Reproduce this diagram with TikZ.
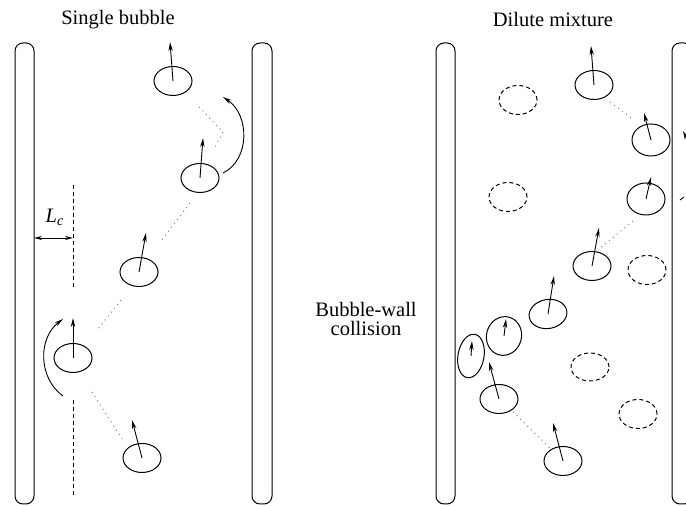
\documentclass[tikz,border=0pt]{standalone}
\usepackage{fontspec}
\setmainfont{Liberation Serif}
\usetikzlibrary{shapes.geometric,arrows.meta}
\tikzset{
  bub/.style={ellipse, draw, line width=0.5pt, inner sep=0pt, minimum width=19pt, minimum height=14.5pt},
  ghost/.style={bub, dash pattern=on 2pt off 1.5pt},
  vel/.style={-{Stealth[length=4.5pt,width=2.2pt]}, line width=0.45pt},
  trail/.style={dotted, gray, line width=0.5pt},
  wall/.style={draw, line width=0.5pt, rounded corners=4pt},
  lbl/.style={font=\fontsize{10.25}{10}\selectfont, anchor=base},
}
\begin{document}
\begin{tikzpicture}[x=0.5pt,y=-0.5pt]
\useasboundingbox (0,0) rectangle (686,506);
\clip (0,0) rectangle (686,506);
% titles
\node [lbl] (tsingle) at (118,25) {Single bubble};
\node [lbl] (tdilute) at (553,27) {Dilute mixture};
\node [lbl] (tcoll1) at (366,317) {Bubble-wall};
\node [lbl] (tcoll2) at (366,336) {collision};
% walls
\draw [wall] (15,43) rectangle (34,504);
\draw [wall] (252,43) rectangle (272,504);
\draw [wall] (436,43) rectangle (455,504);
\draw [wall] (672,43) rectangle (692,504);
% single bubble
\coordinate (wallin) at (34,238);
\coordinate (lcline) at (73,238);
\draw [line width=0.5pt, dash pattern=on 2pt off 1.5pt] (73,185) -- (73,290);
\draw [line width=0.5pt, dash pattern=on 2pt off 1.5pt] (73,400) -- (73,497);
\draw [{Stealth[length=4pt,width=2pt]}-{Stealth[length=4pt,width=2pt]}, line width=0.45pt] (wallin) -- (lcline);
\node [lbl] (lc) at (55,223) {\textit{L}\textsubscript{\textit{c}}};
\node [bub] (s1) at (173,81) {};
\node [bub] (s2) at (200,178) {};
\node [bub] (s3) at (139,272) {};
\node [bub] (s4) at (73,358) {};
\node [bub] (s5) at (142,458) {};
\coordinate (s1v) at (170,42);
\coordinate (s2v) at (203,138);
\coordinate (s3v) at (146,233);
\coordinate (s4v) at (73,318);
\coordinate (s5v) at (132,420);
\draw [vel] (s1.center) -- (s1v);
\draw [vel] (s2.center) -- (s2v);
\draw [vel] (s3.center) -- (s3v);
\draw [vel] (s4.center) -- (s4v);
\draw [vel] (s5.center) -- (s5v);
\draw [trail] (199,107) -- (223,132) -- (214,149);
\draw [trail] (190,203) -- (161,241);
\draw [trail] (121,300) -- (98,329);
\draw [trail] (92,392) -- (122,439);
\draw [vel] (223,173) .. controls (250,160) and (250,115) .. (223,97);
\draw [vel] (63,396) .. controls (38,378) and (38,338) .. (63,319);
% dilute mixture
\node [bub] (ba) at (594,85) {};
\node [bub, minimum height=16pt] (bb) at (651,140) {};
\node [bub, minimum height=16pt] (bc) at (646,199) {};
\node [bub] (bd) at (592,266) {};
\node [bub, rotate=10] (be) at (548,314) {};
\node [bub, minimum width=17.5pt, minimum height=19.5pt, rotate=-15] (bf) at (504,336) {};
\node [bub, minimum width=13pt, minimum height=22pt, rotate=-10] (bg) at (471,356) {};
\node [bub] (bh) at (499,399) {};
\node [bub] (bi) at (563,461) {};
\coordinate (bav) at (591,46);
\coordinate (bbv) at (644,113);
\coordinate (bcv) at (651,177);
\coordinate (bdv) at (599,228);
\coordinate (bev) at (554,276);
\coordinate (bfv) at (506,319);
\coordinate (bgv) at (472,341);
\coordinate (bhv) at (489,362);
\coordinate (biv) at (553,423);
\draw [vel] (ba.center) -- (bav);
\draw [vel] (bb.center) -- (bbv);
\draw [vel] (bc.center) -- (bcv);
\draw [vel] (bd.center) -- (bdv);
\draw [vel] (be.center) -- (bev);
\draw [vel] (bf.center) -- (bfv);
\draw [vel] (bg.center) -- (bgv);
\draw [vel] (bh.center) -- (bhv);
\draw [vel] (bi.center) -- (biv);
\node [ghost] (g1) at (518,100) {};
\node [ghost] (g2) at (508,197) {};
\node [ghost] (g3) at (647,270) {};
\node [ghost, minimum height=14pt] (g4) at (590,367) {};
\node [ghost] (g5) at (638,414) {};
\draw [trail] (610,102) -- (633,119);
\draw [trail] (633,221) -- (598,250);
\draw [trail] (513,412) -- (552,450);
% bubbles behind the right wall
\draw [vel] (689,143) -- (683,131);
\draw [line width=0.45pt] (680,200) -- (684,197);
\end{tikzpicture}
\end{document}
